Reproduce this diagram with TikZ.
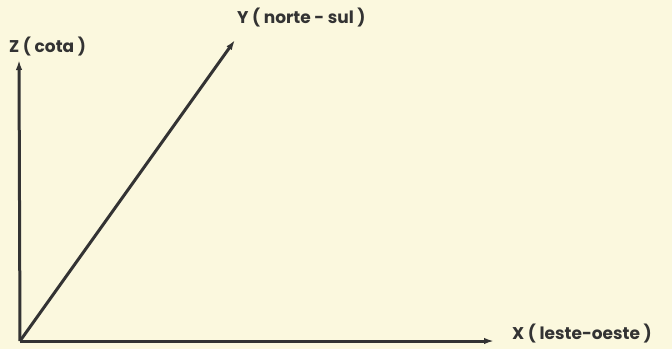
\documentclass[tikz,border=0pt]{standalone}
\usepackage{fontspec}
\setmainfont{Poppins}
\usetikzlibrary{positioning, arrows.meta}
\definecolor{paper}{HTML}{FBF8DE}
\definecolor{ink}{HTML}{333333}

\begin{document}
\begin{tikzpicture}[
      x=1pt, y=-1pt,
      >={Latex[length=10pt,width=6.5pt]},
      axis/.style={->,draw=ink,line width=3pt},
      lab/.style={font=\bfseries\fontsize{17}{20}\selectfont,text=ink,inner sep=0pt}
    ]

    % paper
    \fill[paper] (0,0) rectangle (672,349);
    \useasboundingbox (0,0) rectangle (672,349);

    % end points
    \coordinate (o)  at (20,341);
    \coordinate (zt) at (19,60);
    \coordinate (yt) at (235,40);
    \coordinate (xt) at (494,341);

    % axes
    \draw[axis] (o) -- (zt);
    \draw[axis] (o) -- (yt);
    \draw[axis] (o) -- (xt);

    % labels
    \node[lab,anchor=west] (zl) at (9,47)   {Z ( cota )};
    \node[lab,anchor=west] (yl) at (237,18) {Y ( norte - sul )};
    \node[lab,anchor=west] (xl) at (512,334) {X ( leste-oeste )};

\end{tikzpicture}
\end{document}
